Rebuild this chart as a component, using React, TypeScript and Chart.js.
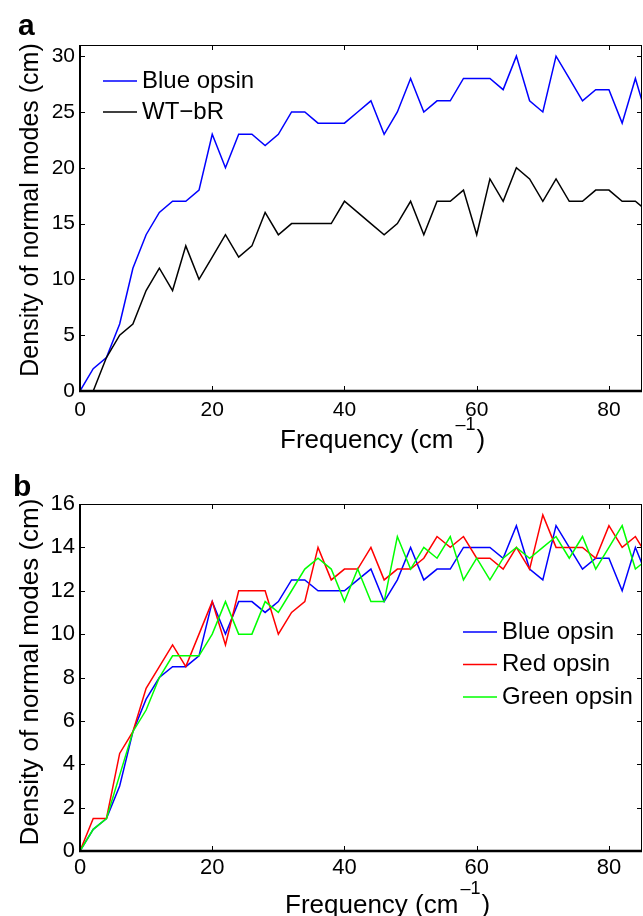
import React, { useEffect, useRef } from 'react';
import { Chart, registerables } from 'chart.js';

Chart.register(...registerables);

// ---------- data ----------
const frequency = [0, 2, 4, 6, 8, 10, 12, 14, 16, 18, 20, 22, 24, 26, 28, 30, 32, 34, 36, 38, 40, 42, 44, 46, 48, 50, 52, 54, 56, 58, 60, 62, 64, 66, 68, 70, 72, 74, 76, 78, 80, 82, 84, 86];

// panel a
const blueOpsinA = [0, 2, 3, 6, 11, 14, 16, 17, 17, 18, 23, 20, 23, 23, 22, 23, 25, 25, 24, 24, 24, 25, 26, 23, 25, 28, 25, 26, 26, 28, 28, 28, 27, 30, 26, 25, 30, 28, 26, 27, 27, 24, 28, 24];
const wtBR = [null, 0, 3, 5, 6, 9, 11, 9, 13, 10, 12, 14, 12, 13, 16, 14, 15, 15, 15, 15, 17, 16, 15, 14, 15, 17, 14, 17, 17, 18, 14, 19, 17, 20, 19, 17, 19, 17, 17, 18, 18, 17, 17, 16];

// panel b
const blueOpsinB = [0, 1, 1.5, 3, 5.5, 7, 8, 8.5, 8.5, 9, 11.5, 10, 11.5, 11.5, 11, 11.5, 12.5, 12.5, 12, 12, 12, 12.5, 13, 11.5, 12.5, 14, 12.5, 13, 13, 14, 14, 14, 13.5, 15, 13, 12.5, 15, 14, 13, 13.5, 13.5, 12, 14, 12.5];
const redOpsinB = [0, 1.5, 1.5, 4.5, 5.5, 7.5, 8.5, 9.5, 8.5, 10, 11.5, 9.5, 12, 12, 12, 10, 11, 11.5, 14, 12.5, 13, 13, 14, 12.5, 13, 13, 13.5, 14.5, 14, 14.5, 13.5, 13.5, 13, 14, 13, 15.5, 14, 14, 14, 13.5, 15, 14, 14.5, 13.5];
const greenOpsinB = [0, 1, 1.5, 3.5, 5.5, 6.5, 8, 9, 9, 9, 10, 11.5, 10, 10, 11.5, 11, 12, 13, 13.5, 13, 11.5, 13, 11.5, 11.5, 14.5, 13, 14, 13.5, 14.5, 12.5, 13.5, 12.5, 13.5, 14, 13.5, 14, 14.5, 13.5, 14.5, 13, 14, 15, 13, 13.5];

const xTicks = [0, 20, 40, 60, 80];
const yTicksA = [0, 5, 10, 15, 20, 25, 30];
const yTicksB = [0, 2, 4, 6, 8, 10, 12, 14, 16];

const xTitleMain = 'Frequency (cm';
const xTitleSup = '\u20131';
const xTitleEnd = ')';
const yTitle = 'Density of normal modes (cm)';

const FONT = '"Liberation Sans", Arial, Helvetica, sans-serif';

function toPoints(ys: (number | null)[]) {
  return frequency.map((x, i) => ({ x, y: ys[i] }));
}

const framePlugin = {
  id: 'frame',
  afterDraw(chart: any, _args: any, o: any) {
    const { ctx, chartArea: a, scales } = chart;
    const L = 5;
    ctx.save();
    ctx.strokeStyle = '#000';
    ctx.lineWidth = 1;
    ctx.beginPath();
    for (const t of scales.x.ticks) {
      const px = Math.round(scales.x.getPixelForValue(t.value)) + 0.5;
      ctx.moveTo(px, a.bottom);
      ctx.lineTo(px, a.bottom - L);
      ctx.moveTo(px, a.top);
      ctx.lineTo(px, a.top + L);
    }
    for (const t of scales.y.ticks) {
      const py = Math.round(scales.y.getPixelForValue(t.value)) + 0.5;
      ctx.moveTo(a.left, py);
      ctx.lineTo(a.left + L, py);
      ctx.moveTo(a.right, py);
      ctx.lineTo(a.right - L, py);
    }
    ctx.stroke();

    // box
    ctx.lineWidth = 1;
    ctx.beginPath();
    ctx.moveTo(a.left, a.top + 0.5);
    ctx.lineTo(a.right, a.top + 0.5);
    ctx.moveTo(a.right - 0.5, a.top);
    ctx.lineTo(a.right - 0.5, a.bottom);
    ctx.stroke();
    ctx.lineWidth = 2;
    ctx.beginPath();
    ctx.moveTo(a.left, a.top);
    ctx.lineTo(a.left, a.bottom + 1);
    ctx.stroke();
    ctx.lineWidth = 2.5;
    ctx.beginPath();
    ctx.moveTo(a.left - 1, a.bottom);
    ctx.lineTo(a.right, a.bottom);
    ctx.stroke();

    // legend
    const lg = o.legend;
    ctx.font = `${lg.size}px ${FONT}`;
    ctx.textAlign = 'left';
    ctx.textBaseline = 'middle';
    chart.data.datasets.forEach((ds: any, i: number) => {
      const y = lg.y + i * lg.gap;
      ctx.strokeStyle = ds.borderColor;
      ctx.lineWidth = 1.5;
      ctx.beginPath();
      ctx.moveTo(lg.x, y);
      ctx.lineTo(lg.x + lg.len, y);
      ctx.stroke();
      ctx.fillStyle = '#000';
      ctx.fillText(ds.label, lg.x + lg.len + lg.textGap, y);
    });

    // x title with superscript
    const xt = o.xTitle;
    ctx.fillStyle = '#000';
    ctx.textBaseline = 'alphabetic';
    ctx.textAlign = 'left';
    ctx.font = `${xt.size}px ${FONT}`;
    let cx = xt.x;
    ctx.fillText(xTitleMain, cx, xt.y);
    cx += ctx.measureText(xTitleMain).width + 2;
    ctx.font = `${xt.supSize}px ${FONT}`;
    ctx.fillText(xTitleSup, cx, xt.y - xt.supRaise);
    cx += ctx.measureText(xTitleSup).width + 1;
    ctx.font = `${xt.size}px ${FONT}`;
    ctx.fillText(xTitleEnd, cx, xt.y);

    // y title
    const yt = o.yTitle;
    ctx.save();
    ctx.translate(yt.x, yt.y);
    ctx.rotate(-Math.PI / 2);
    ctx.font = `${yt.size}px ${FONT}`;
    ctx.textAlign = 'center';
    ctx.textBaseline = 'alphabetic';
    ctx.fillText(yTitle, 0, 0);
    ctx.restore();

    // panel letter
    const pl = o.letter;
    ctx.font = `bold ${pl.size}px ${FONT}`;
    ctx.textAlign = 'left';
    ctx.textBaseline = 'alphabetic';
    ctx.fillText(pl.text, pl.x, pl.y);

    ctx.restore();
  },
};

type PanelCfg = {
  datasets: any[];
  yMax: number;
  yTicks: number[];
  top: number;
  bottomGap: number;
  tickSize: number;
  tickPadX: number;
  legend: any;
  xTitle: any;
  yTitle: any;
  letter: any;
};

function Panel({ cfg }: { cfg: PanelCfg }) {
  const ref = useRef<HTMLCanvasElement | null>(null);
  useEffect(() => {
    if (!ref.current) return;
    const chart = new Chart(ref.current, {
      type: 'line',
      data: { datasets: cfg.datasets },
      plugins: [framePlugin],
      options: {
        responsive: false,
        animation: false,
        devicePixelRatio: 1,
        layout: { padding: { left: 0, top: cfg.top, right: 1, bottom: 0 } },
        elements: { point: { radius: 0 }, line: { borderWidth: 1.5, tension: 0 } },
        plugins: {
          legend: { display: false },
          tooltip: { enabled: false },
          frame: { legend: cfg.legend, xTitle: cfg.xTitle, yTitle: cfg.yTitle, letter: cfg.letter },
        } as any,
        scales: {
          x: {
            type: 'linear',
            min: 0,
            max: 85,
            grid: { display: false, drawTicks: false },
            border: { display: false },
            afterBuildTicks: (s: any) => {
              s.ticks = xTicks.map((v) => ({ value: v }));
            },
            afterFit: (s: any) => {
              s.height = cfg.bottomGap;
            },
            ticks: {
              color: '#000',
              font: { family: FONT, size: cfg.tickSize },
              padding: cfg.tickPadX,
              maxRotation: 0,
              autoSkip: false,
            },
          },
          y: {
            type: 'linear',
            min: 0,
            max: cfg.yMax,
            grid: { display: false, drawTicks: false },
            border: { display: false },
            afterBuildTicks: (s: any) => {
              s.ticks = cfg.yTicks.map((v) => ({ value: v }));
            },
            afterFit: (s: any) => {
              s.width = 80;
            },
            ticks: {
              color: '#000',
              font: { family: FONT, size: cfg.tickSize },
              padding: 5,
              autoSkip: false,
            },
          },
        },
      } as any,
    });
    return () => chart.destroy();
  }, [cfg]);
  return <canvas ref={ref} width={643} height={458} style={{ display: 'block', width: 643, height: 458 }} />;
}

const panelA: PanelCfg = {
  datasets: [
    { label: 'Blue opsin', data: toPoints(blueOpsinA), borderColor: '#0000ff', backgroundColor: '#0000ff', order: 2, spanGaps: false },
    { label: 'WT\u2212bR', data: toPoints(wtBR), borderColor: '#000000', backgroundColor: '#000000', order: 1, spanGaps: false },
  ],
  yMax: 31,
  yTicks: yTicksA,
  top: 45,
  bottomGap: 67,
  tickSize: 21,
  tickPadX: 7,
  legend: { x: 103, y: 81, gap: 31, len: 34, textGap: 5, size: 24 },
  xTitle: { x: 280, y: 448, size: 26, supSize: 18, supRaise: 18 },
  yTitle: { x: 38, y: 210, size: 25 },
  letter: { text: 'a', x: 18, y: 35, size: 30 },
};

const panelB: PanelCfg = {
  datasets: [
    { label: 'Blue opsin', data: toPoints(blueOpsinB), borderColor: '#0000ff', backgroundColor: '#0000ff', order: 3 },
    { label: 'Red opsin', data: toPoints(redOpsinB), borderColor: '#ff0000', backgroundColor: '#ff0000', order: 2 },
    { label: 'Green opsin', data: toPoints(greenOpsinB), borderColor: '#00ff00', backgroundColor: '#00ff00', order: 1 },
  ],
  yMax: 16,
  yTicks: yTicksB,
  top: 46,
  bottomGap: 65,
  tickSize: 22,
  tickPadX: 4,
  legend: { x: 463, y: 174, gap: 32.5, len: 34, textGap: 5, size: 24 },
  xTitle: { x: 285, y: 455, size: 26, supSize: 18, supRaise: 19 },
  yTitle: { x: 38, y: 214, size: 26 },
  letter: { text: 'b', x: 13, y: 38, size: 30 },
};

export default function App() {
  return (
    <div style={{ position: 'absolute', left: 0, top: 0, width: 643, height: 916, background: '#fff', overflow: 'hidden' }}>
      <Panel cfg={panelA} />
      <Panel cfg={panelB} />
    </div>
  );
}
